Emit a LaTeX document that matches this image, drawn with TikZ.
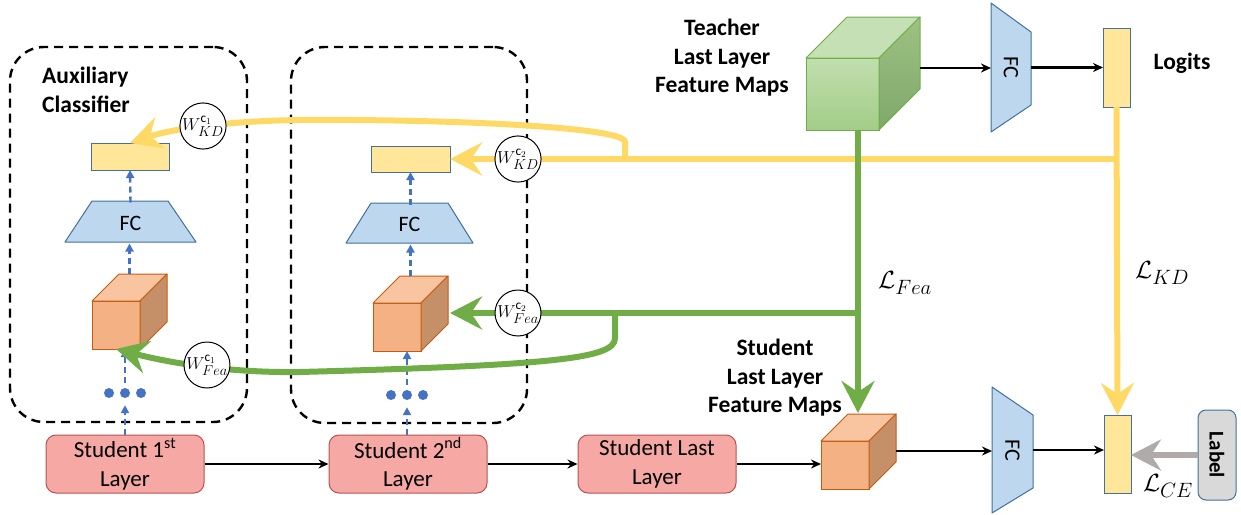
\documentclass[tikz,border=0pt]{standalone}
\usepackage{fontspec}
\setmainfont{Carlito}
\usetikzlibrary{arrows.meta,calc}
\definecolor{ylw}{HTML}{FFD966}
\definecolor{ylwfill}{HTML}{FFE699}
\definecolor{bluebd}{HTML}{41719C}
\definecolor{fcfill}{HTML}{BDD7EE}
\definecolor{grn}{HTML}{70AD47}
\definecolor{orfront}{HTML}{F4B183}
\definecolor{ortop}{HTML}{F8C5A0}
\definecolor{orside}{HTML}{C58F68}
\definecolor{orbd}{HTML}{C55A11}
\definecolor{stfill}{HTML}{F6A8A5}
\definecolor{stbd}{HTML}{B85450}
\definecolor{dblue}{HTML}{4472C4}
\definecolor{lblfill}{HTML}{D9D9D9}
\definecolor{garrow}{HTML}{AFABAB}
\definecolor{gtop}{HTML}{C5E0B4}
\definecolor{gfront1}{HTML}{C2DEAF}
\definecolor{gfront2}{HTML}{A2CD87}
\definecolor{gside1}{HTML}{9DC183}
\definecolor{gside2}{HTML}{7FA86A}
\newcommand\cubefaces[5]{%
  \filldraw[fill=#3, draw=#5, line width=1pt, line join=round] (#1.north west) -- ++(#2,-#2) -- ($(#1.north east)+(#2,-#2)$) -- (#1.north east) -- cycle;
  \filldraw[fill=#4, draw=#5, line width=1pt, line join=round] (#1.north east) -- ++(#2,-#2) -- ($(#1.south east)+(#2,-#2)$) -- (#1.south east) -- cycle;
}
\begin{document}
\begin{tikzpicture}[x=1pt,y=-1pt,
  bigtext/.style={font=\fontsize{23.5}{28.5}\selectfont\bfseries, align=center, inner sep=0},
  stbox/.style={draw=stbd, fill=stfill, rounded corners=10pt, line width=1pt, minimum width=158, minimum height=58, align=center, font=\fontsize{23}{28.5}\selectfont, inner sep=0},
  dashbox/.style={draw=black, dash pattern=on 9pt off 6pt, line width=2.4pt, rounded corners=34pt, inner sep=0},
  ybar/.style={draw=bluebd, fill=ylwfill, line width=1pt, inner sep=0, outer sep=0},
  fcshape/.style={draw=bluebd, fill=fcfill, line width=1pt, line join=round},
  fctext/.style={font=\fontsize{22}{26}\selectfont, inner sep=0, outer sep=0},
  tip/.style={-{Stealth[length=32pt,width=33pt,inset=11pt]}},
  yline/.style={draw=ylw, line width=6pt, tip},
  gline/.style={draw=grn, line width=6pt, tip},
  blk/.style={draw=black, line width=2.5pt, -{Stealth[length=10pt,width=9pt]}},
  bdash/.style={draw=dblue, line width=2.4pt, dash pattern=on 6pt off 4pt, -{Triangle[length=8pt,width=8pt]}},
  dot/.style={circle, fill=dblue, minimum size=10, inner sep=0},
  wcirc/.style={circle, draw, fill=white, line width=1pt, minimum size=44, inner sep=0, font=\fontsize{19}{22}\selectfont},
  cubefront/.style={draw=orbd, fill=orfront, line width=1pt, inner sep=0, outer sep=0, minimum width=48, minimum height=48},
  mathlbl/.style={font=\fontsize{28}{32}\selectfont, inner sep=0}
]
\useasboundingbox (0,0) rectangle (1241,514);

% dashed auxiliary boxes
\node[dashbox, minimum width=237, minimum height=375] (db1) at (128.5,234.5) {};
\node[dashbox, minimum width=236, minimum height=376] (db2) at (409,235) {};

% student layers
\node[stbox] (s1) at (125,464) {Student 1\textsuperscript{st}\\Layer};
\node[stbox] (s2) at (408,464) {Student 2\textsuperscript{nd}\\Layer};
\node[stbox] (s3) at (657,464) {Student Last\\Layer};

% cubes
\node[cubefront] (c1) at (116,325) {};
\cubefaces{c1}{27}{ortop}{orside}{orbd}
\node[cubefront] (c2) at (397,327) {};
\cubefaces{c2}{27}{ortop}{orside}{orbd}
\node[cubefront] (cs) at (845,465) {};
\cubefaces{cs}{27}{ortop}{orside}{orbd}
\shade[top color=gfront1, bottom color=gfront2] (806,58) rectangle (879,130);
\node[draw=grn, line width=1pt, inner sep=0, outer sep=0, minimum width=73, minimum height=72] (ct) at (842.5,94) {};
\filldraw[fill=gtop, draw=grn, line width=1pt, line join=round] (ct.north west) -- ++(41,-41) -- ($(ct.north east)+(41,-41)$) -- (ct.north east) -- cycle;
\shadedraw[top color=gside1, bottom color=gside2, draw=grn, line width=1pt, line join=round] (ct.north east) -- ++(41,-41) -- ($(ct.south east)+(41,-41)$) -- (ct.south east) -- cycle;

% FC trapezoids
\draw[fcshape] (92,201) -- (168,201) -- (196,242) -- (65,242) -- cycle;
\node[fctext, minimum width=131, minimum height=41] (fc1) at (130.5,223) {FC};
\draw[fcshape] (371,203) -- (448,203) -- (473,243) -- (346,243) -- cycle;
\node[fctext, minimum width=127, minimum height=40] (fc2) at (409.5,224.5) {FC};
\draw[fcshape] (991,3) -- (1031,32) -- (1031,105) -- (991,132) -- cycle;
\node[fctext, minimum width=40, minimum height=129] (fct) at (1011,67.5) {};
\node[fctext, rotate=-90] at (fct) {FC};
\draw[fcshape] (992,387) -- (1033,415) -- (1033,488) -- (992,513) -- cycle;
\node[fctext, minimum width=41, minimum height=126] (fcs) at (1012.5,450) {};
\node[fctext, rotate=-90] at (fcs) {FC};

% yellow bars
\node[ybar, minimum width=78, minimum height=27] (yb1) at (130,156.5) {};
\node[ybar, minimum width=79, minimum height=26] (yb2) at (410.5,159) {};
\node[ybar, minimum width=27, minimum height=79] (lt) at (1116.5,67.5) {};
\node[ybar, minimum width=27, minimum height=78] (ls) at (1117.5,454) {};

% label
\node[draw=bluebd, fill=lblfill, rounded corners=8pt, line width=1pt, minimum width=38, minimum height=90, inner sep=0] (lbl) at (1217,455) {};
\node[font=\fontsize{21}{24}\selectfont\bfseries, rotate=-90, inner sep=0] at (lbl) {Label};

% text labels
\node[bigtext] (tt) at (722,58) {Teacher\\Last Layer\\Feature Maps};
\node[bigtext] (stt) at (775,378) {Student\\Last Layer\\Feature Maps};
\node[bigtext, align=left] (aux) at (86,90) {Auxiliary\\Classifier};
\node[bigtext] (lg) at (1182,63) {Logits};

% black arrows
\draw[blk] (s1.east) -- (s2.west);
\draw[blk] (s2.east) -- (s3.west);
\draw[blk] (s3.east) -- (s3.east -| cs.west);
\coordinate (csr) at (896,451);
\draw[blk] (csr) -- (csr -| fcs.west);
\draw[blk] (fcs.east) -- (fcs.east -| ls.west);
\coordinate (ctr) at (920,68);
\draw[blk] (ctr) -- (ctr -| fct.west);
\draw[blk] (fct.east) -- (fct.east -| lt.west);

% blue dashed flows
\node[dot] (d11) at (109,393) {};
\node[dot] (d12) at (125,393) {};
\node[dot] (d13) at (141,393) {};
\node[dot] (d21) at (391,395) {};
\node[dot] (d22) at (407,395) {};
\node[dot] (d23) at (423,395) {};
\draw[bdash, shorten >=7pt] (s1.north -| d12) -- (d12.south);
\draw[bdash, shorten <=5pt] (d12.north) -- (d12 |- c1.south);
\coordinate (c1t) at ($(c1.north)+(13.5,-27)$);
\draw[bdash] (c1t) -- (c1t |- fc1.south);
\draw[bdash] (fc1.north) -- (yb1.south);
\draw[bdash, shorten >=7pt] (s2.north -| d22) -- (d22.south);
\draw[bdash, shorten <=5pt] (d22.north) -- (d22 |- c2.south);
\coordinate (c2t) at ($(c2.north)+(13.5,-27)$);
\draw[bdash] (c2t) -- (c2t |- fc2.south);
\draw[bdash] (fc2.north -| yb2) -- (yb2.south);

% yellow KD flows
\draw[yline] (lt.south) -- (ls.north);
\coordinate (yj) at (1116.5,159);
\coordinate (yb) at (625,159);
\draw[yline] (yj) -- (yb2.east);
\draw[yline] (yb) -- (625,142) .. controls (625,127) and (450,119) .. (300,120) .. controls (230,121) and (175,128) .. (yb1.north);

% green feature flows
\coordinate (gt) at (858,130);
\coordinate (gs) at (858,413);
\coordinate (gj) at (858,313);
\coordinate (gb) at (615,313);
\draw[gline] (gt) -- (gs);
\draw[gline] (gj) -- (450,313);
\draw[gline] (gb) -- (615,338) .. controls (615,358) and (560,365) .. (300,372) .. controls (230,373) and (170,363) .. (c1.south);

% gray CE arrow
\draw[draw=garrow, line width=6pt, -{Stealth[length=30pt,width=31pt,inset=10pt]}] (lbl.west) -- (lbl.west -| ls.east);

% weight circles
\node[wcirc] (wk1) at (203,126) {$W_{KD}^{\mathrm{c}_1}$};
\node[wcirc] (wk2) at (518,159) {$W_{KD}^{\mathrm{c}_2}$};
\node[wcirc] (wf1) at (207,365) {$W_{Fea}^{\mathrm{c}_1}$};
\node[wcirc] (wf2) at (518,313) {$W_{Fea}^{\mathrm{c}_2}$};

% loss labels
\node[mathlbl] (lfea) at (905,283) {$\mathcal{L}_{Fea}$};
\node[mathlbl] (lkd) at (1162,273) {$\mathcal{L}_{KD}$};
\node[mathlbl] (lce) at (1168,486) {$\mathcal{L}_{CE}$};
\end{tikzpicture}
\end{document}
